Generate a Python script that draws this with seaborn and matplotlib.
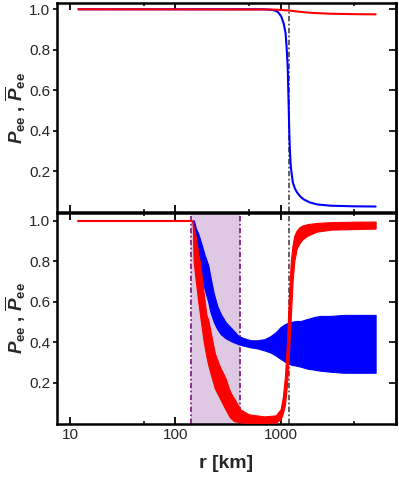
import numpy as np
import pandas as pd
import seaborn as sns
import matplotlib.pyplot as plt

# survival probabilities vs radius

# upper panel: smooth curves
r_top_red = [12, 800, 1000, 1200, 1500, 2000, 3000, 5000, 8000]
p_top_red = [1.0, 0.999, 0.997, 0.994, 0.988, 0.982, 0.978, 0.976, 0.975]

r_top_blue = [12, 700, 832, 900, 950, 1015, 1070, 1116, 1145, 1168, 1190, 1210,
              1230, 1250, 1280, 1310, 1370, 1440, 1550, 1660, 1900, 2250, 3000,
              5000, 8000]
p_top_blue = [1.0, 1.0, 0.997, 0.992, 0.985, 0.964, 0.93, 0.882, 0.80, 0.718,
              0.554, 0.39, 0.29, 0.226, 0.18, 0.144, 0.115, 0.095, 0.075, 0.062,
              0.047, 0.037, 0.031, 0.028, 0.027]

# lower panel: flat start, then fast-oscillating bands (lower / upper envelope)
r_flat = [12, 145]
p_flat = [1.0, 1.0]

r_red_band = [145, 147, 149, 155, 165, 173, 185, 197, 205, 215, 237, 260, 300,
              330, 360, 416, 500, 700, 900, 1000, 1050, 1100, 1150, 1200, 1250,
              1300, 1350, 1420, 1500, 1600, 1800, 2200, 3000, 5000, 8000]
red_lower = [1.0, 0.95, 0.80, 0.72, 0.60, 0.52, 0.41, 0.33, 0.29, 0.25, 0.173,
             0.132, 0.069, 0.03, 0.012, 0.005, 0.003, 0.003, 0.005, 0.02, 0.05,
             0.09, 0.19, 0.35, 0.52, 0.70, 0.80, 0.86, 0.885, 0.905, 0.925,
             0.945, 0.955, 0.958, 0.96]
red_upper = [1.0, 1.0, 0.97, 0.93, 0.84, 0.78, 0.65, 0.536, 0.512, 0.458, 0.347,
             0.29, 0.222, 0.159, 0.125, 0.069, 0.045, 0.035, 0.04, 0.07, 0.13,
             0.233, 0.40, 0.63, 0.80, 0.88, 0.925, 0.95, 0.965, 0.975, 0.982,
             0.988, 0.992, 0.994, 0.995]

r_blue_band = [145, 150, 157, 165, 176, 190, 205, 215, 232, 250, 270, 300, 340,
               400, 450, 520, 600, 700, 800, 900, 1000, 1100, 1250, 1400, 1550,
               1800, 2100, 2400, 3000, 4000, 5000, 6500, 8000]
blue_lower = [1.0, 0.94, 0.889, 0.83, 0.74, 0.66, 0.60, 0.55, 0.50, 0.465, 0.44,
              0.42, 0.405, 0.39, 0.383, 0.375, 0.37, 0.36, 0.35, 0.335, 0.318,
              0.305, 0.29, 0.285, 0.28, 0.27, 0.265, 0.26, 0.255, 0.25, 0.25,
              0.25, 0.25]
blue_upper = [1.0, 1.0, 0.96, 0.935, 0.889, 0.83, 0.782, 0.725, 0.64, 0.58, 0.54,
              0.50, 0.47, 0.43, 0.42, 0.41, 0.41, 0.415, 0.43, 0.45, 0.475, 0.49,
              0.50, 0.505, 0.505, 0.515, 0.525, 0.53, 0.53, 0.535, 0.535, 0.535,
              0.535]

r_shade = [142, 410]   # shaded radius interval
r_mark = 1200          # grey dash-dot marker

x_ticks = [10, 100, 1000]
x_tick_labels = ["10", "100", "1000"]
x_minor = [50, 500, 5000]
y_ticks = [0.2, 0.4, 0.6, 0.8, 1.0]
y_tick_labels = ["0.2", "0.4", "0.6", "0.8", "1.0"]

sns.set_theme(style="ticks")
plt.rcParams['font.family'] = ['Liberation Sans', 'DejaVu Sans']
plt.rcParams['mathtext.fontset'] = 'custom'
plt.rcParams['mathtext.rm'] = 'Liberation Sans:bold'
plt.rcParams['mathtext.it'] = 'Liberation Sans:bold:italic'
plt.rcParams['mathtext.bf'] = 'Liberation Sans:bold'

fig = plt.figure(figsize=(3.99, 4.83), dpi=100)
ax1 = fig.add_axes([57 / 399, 1 - 212 / 483, 339 / 399, 209 / 483])
ax2 = fig.add_axes([57 / 399, 1 - 423.5 / 483, 339 / 399, 210.5 / 483])

ylabel = r'$P_{\mathrm{ee}}$ , $\overline{P}_{\mathrm{ee}}$'
dashdot = (3, 1.3, 1, 1.3)

# top panel
ax1.set_xscale('log')
ax1.axvline(r_mark, color='#555555', lw=1.3, dashes=dashdot, zorder=1)
sns.lineplot(x=r_top_blue, y=p_top_blue, color='blue', lw=1.5, ax=ax1, zorder=3)
sns.lineplot(x=r_top_red, y=p_top_red, color='red', lw=1.5, ax=ax1, zorder=4)
ax1.set_ylim(0.0, 1.031)

# bottom panel
ax2.set_xscale('log')
ax2.axvspan(r_shade[0], r_shade[1], color='#dfc9e2', lw=0, zorder=0)
for r in r_shade:
    ax2.axvline(r, color='#8a1f8a', lw=1.3, dashes=dashdot, zorder=1)
ax2.axvline(r_mark, color='#555555', lw=1.3, dashes=dashdot, zorder=1)
ax2.fill_between(r_blue_band, blue_lower, blue_upper, color='blue',
                 edgecolor='blue', lw=0.8, zorder=3)
ax2.fill_between(r_red_band, red_lower, red_upper, color='red',
                 edgecolor='red', lw=0.8, zorder=4)
sns.lineplot(x=r_flat, y=p_flat, color='red', lw=1.5, ax=ax2, zorder=4)
ax2.set_ylim(0.0, 1.037)

for ax in (ax1, ax2):
    ax.set_xlim(7.5, 12500)
    ax.set_xticks(x_ticks, labels=x_tick_labels)
    ax.set_xticks(x_minor, minor=True)
    ax.xaxis.set_minor_formatter(plt.NullFormatter())
    ax.set_yticks(y_ticks, labels=y_tick_labels)
    ax.tick_params(axis='x', which='major', direction='in', length=5,
                   width=1.3, top=True, bottom=True, labelsize=11, color='black')
    ax.tick_params(axis='x', which='minor', direction='in', length=2.5,
                   width=1.1, top=True, bottom=True, color='black')
    ax.tick_params(axis='y', which='major', direction='out', length=3,
                   width=1.2, left=True, right=False, labelsize=11, pad=2,
                   color='black')
    sec = ax.secondary_yaxis('right')
    sec.set_yticks(y_ticks)
    sec.tick_params(direction='in', length=5, width=1.2, labelright=False,
                    color='black')
    sec.spines['right'].set_linewidth(1.8)
    for sp in ax.spines.values():
        sp.set_linewidth(1.8)
        sp.set_color('black')
        sp.set_visible(True)
    ax.set_ylabel(ylabel, fontsize=13.5, fontweight='bold')
    ax.yaxis.set_label_coords(-0.085, 0.5)

ax1.tick_params(axis='x', labelbottom=False)
ax2.set_xlabel('r [km]', fontsize=14, fontweight='bold', labelpad=9)

fig.savefig('out.png', dpi=100)
